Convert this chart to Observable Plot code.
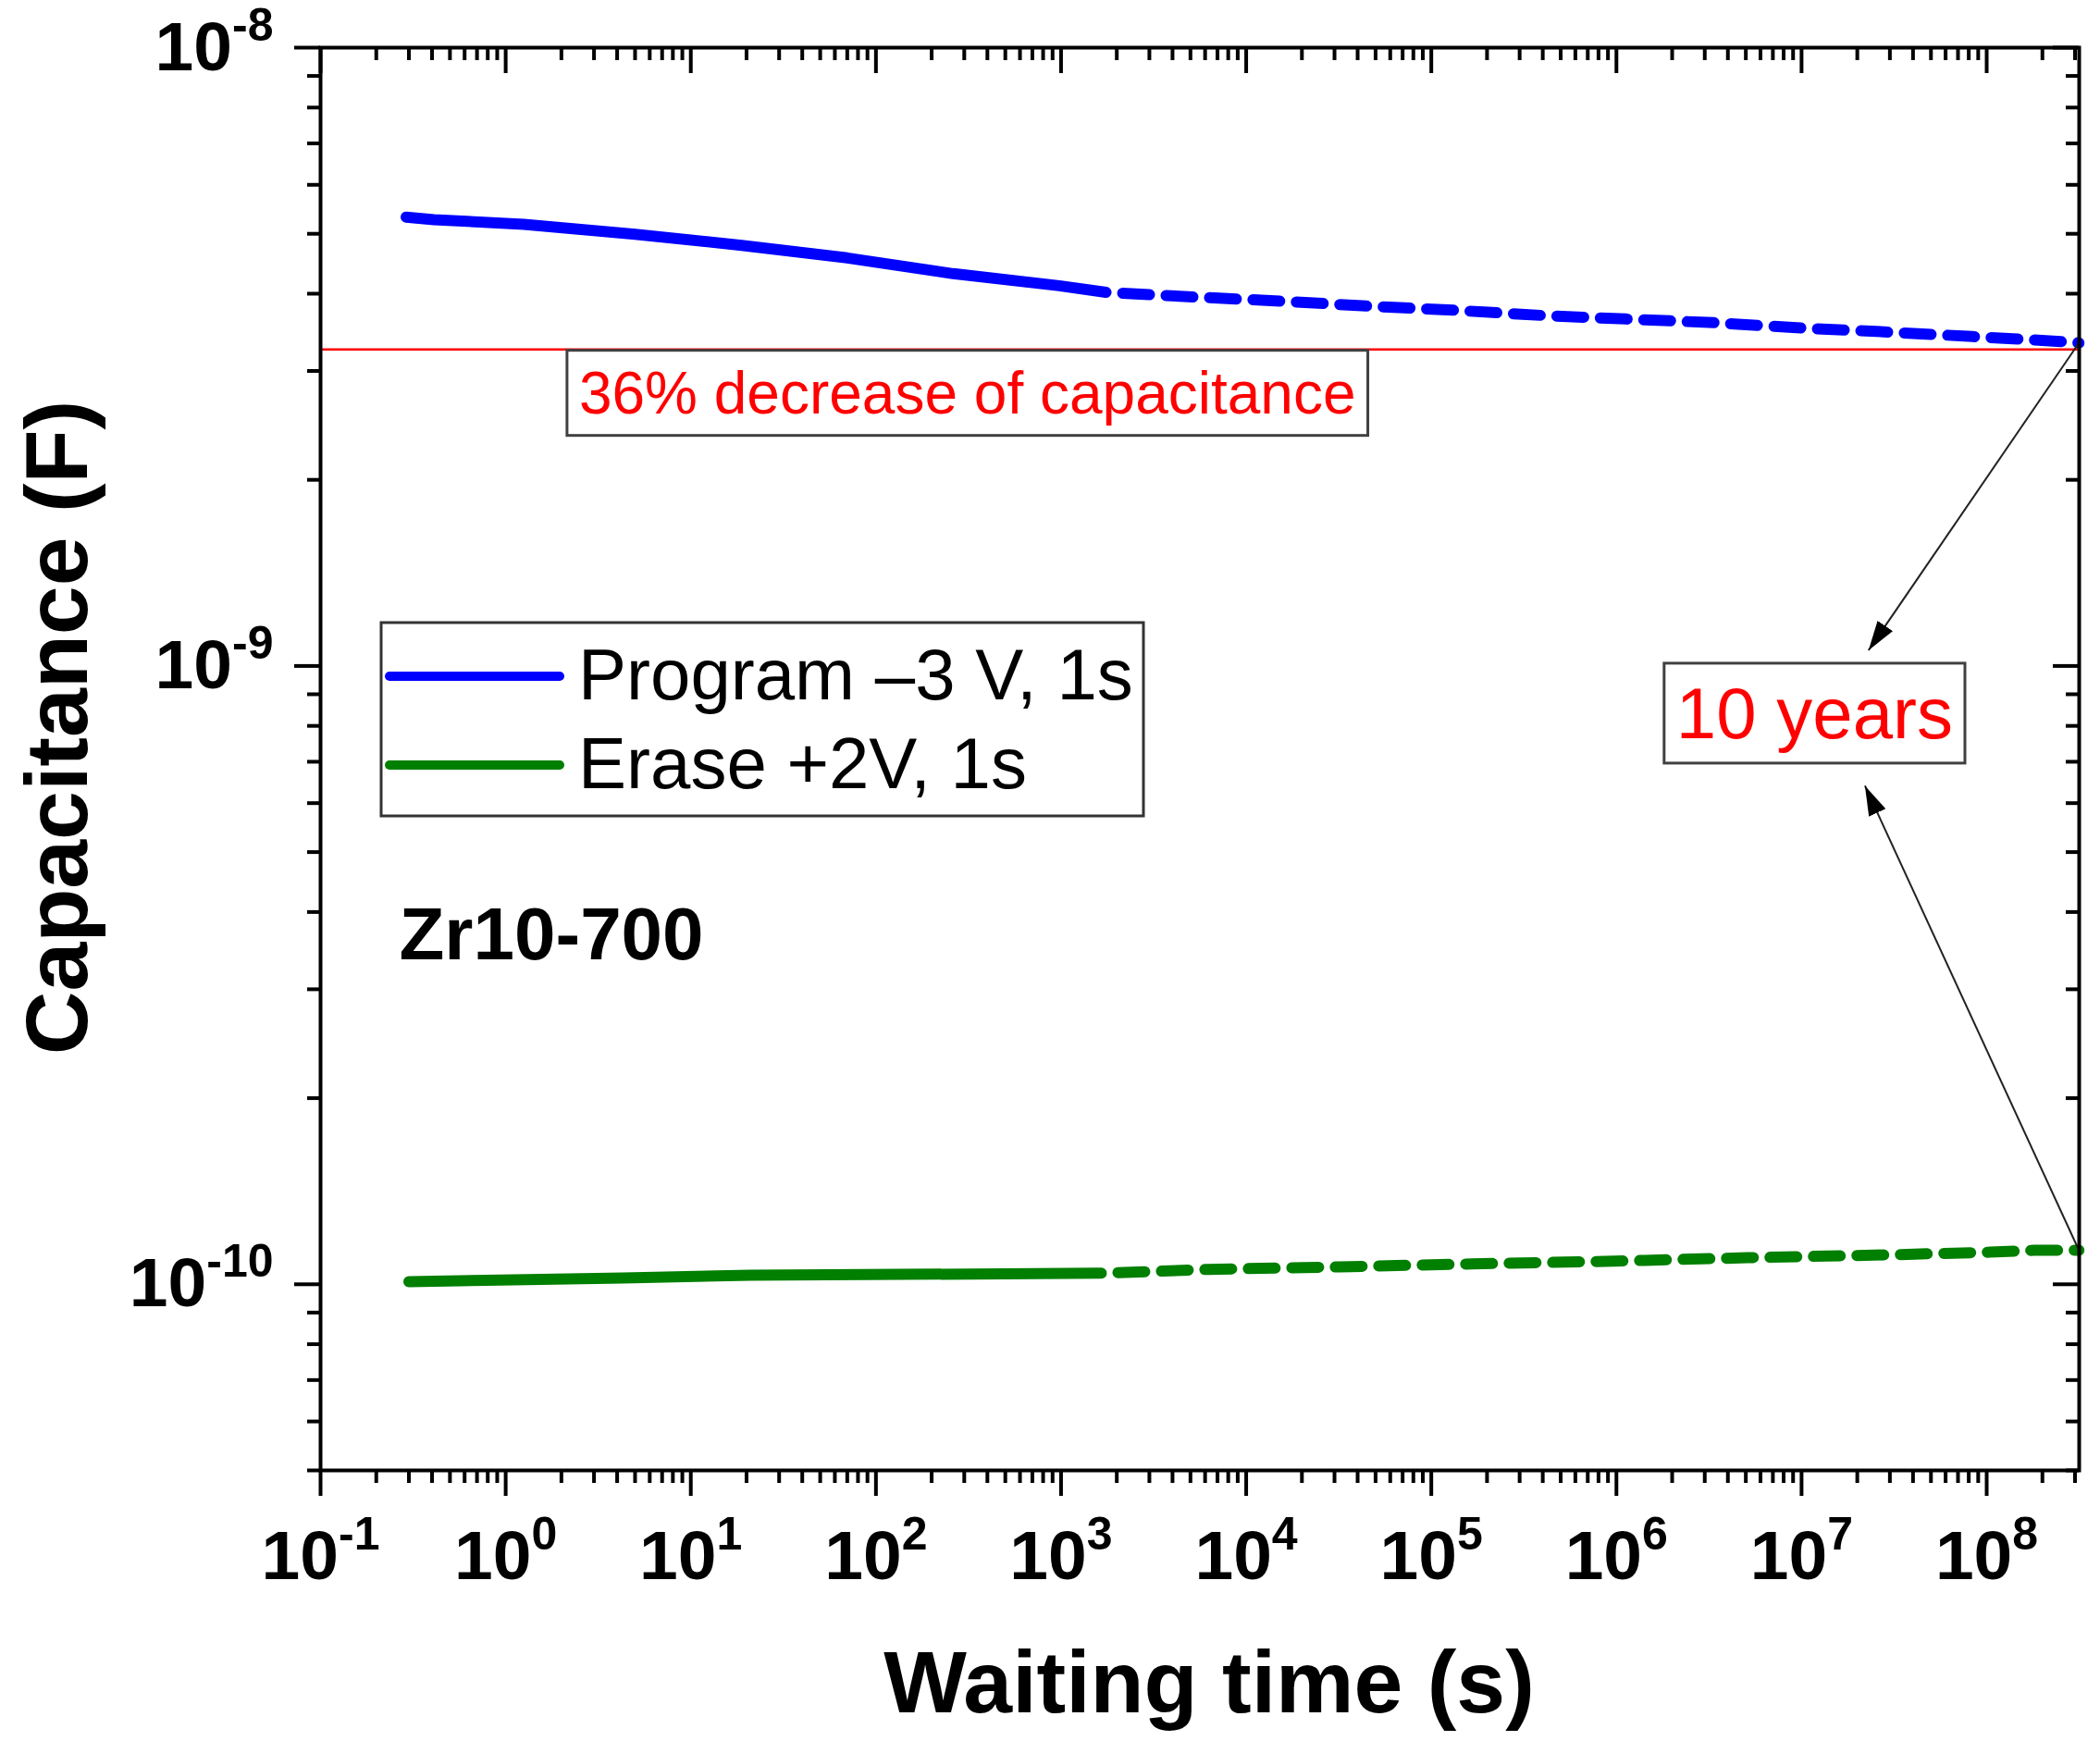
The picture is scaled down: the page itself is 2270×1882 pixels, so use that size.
<!DOCTYPE html>
<html>
<head>
<meta charset="utf-8">
<script src="https://cdn.jsdelivr.net/npm/d3@7"></script>
<script src="https://cdn.jsdelivr.net/npm/@observablehq/plot@0.6"></script>
<style>
  body { margin: 0; background: #ffffff; }
  svg { display: block; }
</style>
</head>
<body>
<div id="chart"></div>
<script>
// ---------- data ----------
// Program -3 V, 1s : measured part (solid)
const progMeasT = [0.29, 0.41, 1.25, 5.0, 18.8, 70, 261, 977, 1750];
const progMeasC = [5.32e-9, 5.27e-9, 5.18e-9, 4.99e-9, 4.79e-9, 4.57e-9, 4.31e-9, 4.12e-9, 4.02e-9];
// Program : extrapolated part (dashed)
const progExtT = [1750, 5400, 1.57e4, 4.5e4, 1.35e5, 3.9e5, 1.13e6, 3.4e6, 1.0e7, 2.8e7, 8.4e7, 2.4e8, 3.15e8];
const progExtC = [4.02e-9, 3.95e-9, 3.89e-9, 3.82e-9, 3.76e-9, 3.69e-9, 3.64e-9, 3.59e-9, 3.52e-9, 3.47e-9, 3.41e-9, 3.35e-9, 3.33e-9];
// Erase +2V, 1s : measured part (solid)
const eraseMeasT = [0.3, 0.78, 4.3, 21, 1650];
const eraseMeasC = [1.01e-10, 1.015e-10, 1.024e-10, 1.034e-10, 1.042e-10];
// Erase : extrapolated part (dashed)
const eraseExtT = [1650, 6.2e3, 3.2e4, 1.66e5, 9.8e5, 5.1e6, 3.0e7, 1.04e8, 1.8e8, 3.15e8];
const eraseExtC = [1.042e-10, 1.057e-10, 1.067e-10, 1.079e-10, 1.09e-10, 1.104e-10, 1.116e-10, 1.127e-10, 1.135e-10, 1.135e-10];

// 36 % decrease level
const decreaseLevel = [3.25e-9];

// tick exponents
const xTickExponents = [-1, 0, 1, 2, 3, 4, 5, 6, 7, 8];
const yTickExponents = [-10, -9, -8];

// texts
const legendLabels = ["Program \u20133 V, 1s", "Erase +2V, 1s"];
const legendColors = ["#0000ff", "#007f00"];
const sampleLabel = ["Zr10-700"];
const xTitle = ["Waiting time (s)"];
const yTitle = ["Capacitance (F)"];
const decreaseText = ["36% decrease of capacitance"];
const decreaseTextT = [2.49];
const decreaseTextC = [2.563e-9];
const yearsText = ["10 years"];
const yearsTextT = [1.175e7];
const yearsTextC = [8.33e-10];
// arrows: from curve ends to the "10 years" label
const arrowFromT = [3.15e8, 3.15e8];
const arrowFromC = [3.33e-9, 1.135e-10];
const arrowToT = [2.3e7, 2.2e7];
const arrowToC = [1.06e-9, 6.4e-10];

// ---------- derived tables ----------
const rows = (T, C) => T.map((t, i) => ({t, c: C[i]}));
const xDomain = [0.1, 3.16e8];
const yDomain = [5e-11, 1e-8];
const majorX = xTickExponents.map(e => Math.pow(10, e));
const majorY = yTickExponents.map(e => Math.pow(10, e));
const minorX = [];
for (let e = -1; e <= 8; e++) for (let m = 2; m <= 9; m++) {
  const v = m * Math.pow(10, e);
  if (v <= xDomain[1]) minorX.push(v);
}
const minorY = [];
for (let e = -11; e <= -9; e++) for (let m = 2; m <= 9; m++) {
  const v = m * Math.pow(10, e);
  if (v >= yDomain[0] * 0.999 && v <= yDomain[1]) minorY.push(v);
}
const supFmt = d => "10^" + Math.round(Math.log10(d));
const blank = () => "";
const arrows = arrowFromT.map((t, i) => ({t1: t, c1: arrowFromC[i], t2: arrowToT[i], c2: arrowToC[i]}));

const font = "'Liberation Sans', Arial, Helvetica, sans-serif";

const chart = Plot.plot({
  width: 2270,
  height: 1882,
  marginLeft: 346,
  marginRight: 23,
  marginTop: 51,
  marginBottom: 293,
  style: {fontFamily: font, background: "#ffffff", color: "#000000"},
  x: {type: "log", domain: xDomain},
  y: {type: "log", domain: yDomain},
  marks: [
    // red reference level
    Plot.ruleY(decreaseLevel, {stroke: "#ff0000", strokeWidth: 2.5}),
    // curves
    Plot.line(rows(progExtT, progExtC), {x: "t", y: "c", stroke: "#0000ff", strokeWidth: 12, strokeDasharray: "29,18", strokeDashoffset: 29}),
    Plot.line(rows(progMeasT, progMeasC), {x: "t", y: "c", stroke: "#0000ff", strokeWidth: 12, strokeLinecap: "round", strokeLinejoin: "round"}),
    Plot.line(rows(eraseExtT, eraseExtC), {x: "t", y: "c", stroke: "#007f00", strokeWidth: 12, strokeDasharray: "29,18", strokeDashoffset: 29}),
    Plot.line(rows(eraseMeasT, eraseMeasC), {x: "t", y: "c", stroke: "#007f00", strokeWidth: 12, strokeLinecap: "round", strokeLinejoin: "round"}),
    // arrows
    Plot.link(arrows, {x1: "t1", y1: "c1", x2: "t2", y2: "c2", stroke: "#222222", strokeWidth: 2}),
    // boxed annotations
    Plot.text(decreaseText, {x: () => decreaseTextT[0], y: () => decreaseTextC[0], text: d => d, fill: "#ff0000", fontSize: 64, textAnchor: "start", lineAnchor: "bottom"}),
    Plot.text(yearsText, {x: () => yearsTextT[0], y: () => yearsTextC[0], text: d => d, fill: "#ff0000", fontSize: 78, textAnchor: "middle", lineAnchor: "middle"}),
    // sample label
    Plot.text(sampleLabel, {text: d => d, frameAnchor: "top-left", dx: 85, dy: 985, textAnchor: "start", lineAnchor: "bottom", fontSize: 80, fontWeight: "bold"}),
    // axes: bottom / left (outward), top / right (inward)
    Plot.axisX(majorX, {anchor: "bottom", tickSize: 28, tickPadding: 36, tickFormat: supFmt, fontSize: 75, fontWeight: "bold", strokeWidth: 4, label: null}),
    Plot.axisX(minorX, {anchor: "bottom", tickSize: 14, tickFormat: blank, strokeWidth: 4, label: null}),
    Plot.axisX(majorX, {anchor: "bottom", frameAnchor: "top", tickSize: 28, tickFormat: blank, strokeWidth: 4, label: null}),
    Plot.axisX(minorX, {anchor: "bottom", frameAnchor: "top", tickSize: 14, tickFormat: blank, strokeWidth: 4, label: null}),
    Plot.axisY(majorY, {anchor: "left", tickSize: 28, tickPadding: 23, tickFormat: supFmt, fontSize: 75, fontWeight: "bold", strokeWidth: 4, label: null}),
    Plot.axisY(minorY, {anchor: "left", tickSize: 14, tickFormat: blank, strokeWidth: 4, label: null}),
    Plot.axisY(majorY, {anchor: "left", frameAnchor: "right", tickSize: 28, tickFormat: blank, strokeWidth: 4, label: null}),
    Plot.axisY(minorY, {anchor: "left", frameAnchor: "right", tickSize: 14, tickFormat: blank, strokeWidth: 4, label: null}),
    Plot.frame({stroke: "#000000", strokeWidth: 4}),
    // axis titles
    Plot.text(xTitle, {text: d => d, frameAnchor: "bottom", dx: 10, dy: 261, textAnchor: "middle", lineAnchor: "bottom", fontSize: 95, fontWeight: "bold"}),
    Plot.text(yTitle, {text: d => d, frameAnchor: "left", rotate: -90, dx: -253, dy: -34, textAnchor: "middle", lineAnchor: "bottom", fontSize: 95, fontWeight: "bold"})
  ]
});

document.getElementById("chart").append(chart);

// ---------- post-processing ----------
const svg = d3.select(chart);

// remove empty tick texts
svg.selectAll("text").filter(function () { return this.textContent === ""; }).remove();

// superscripted powers of ten
svg.selectAll("text").each(function () {
  const m = /^10\^(-?\d+)$/.exec(this.textContent);
  if (!m) return;
  const t = d3.select(this);
  t.text("10");
  t.append("tspan").attr("dy", -32).attr("font-size", 50).text(m[1]);
});

// boxes around the two boxed annotations
const boxedTexts = decreaseText.concat(yearsText);
Array.from(chart.querySelectorAll("text"))
  .filter(el => boxedTexts.includes(el.textContent))
  .forEach(el => {
    const b = el.getBBox();
    const padX = 13, padY = 10;
    const rect = document.createElementNS("http://www.w3.org/2000/svg", "rect");
    rect.setAttribute("x", b.x - padX);
    rect.setAttribute("y", b.y - padY);
    rect.setAttribute("width", b.width + 2 * padX);
    rect.setAttribute("height", b.height + 2 * padY);
    rect.setAttribute("fill", "#ffffff");
    rect.setAttribute("stroke", "#404040");
    rect.setAttribute("stroke-width", 3);
    const tr = el.getAttribute("transform");
    if (tr) rect.setAttribute("transform", tr);
    el.parentNode.insertBefore(rect, el);
  });

// filled arrow heads on the link mark
const defs = svg.insert("defs", ":first-child");
defs.append("marker")
  .attr("id", "filled-head")
  .attr("viewBox", "0 0 32 20")
  .attr("refX", 32).attr("refY", 10)
  .attr("markerWidth", 32).attr("markerHeight", 20)
  .attr("markerUnits", "userSpaceOnUse")
  .attr("orient", "auto")
  .append("path").attr("d", "M0,0L32,10L0,20Z").attr("fill", "#000000");
svg.selectAll('g[aria-label="link"] path').attr("marker-end", "url(#filled-head)");

// legend
const leg = svg.append("g").attr("aria-label", "legend").attr("text-anchor", "start");
leg.append("rect")
  .attr("x", 412).attr("y", 673).attr("width", 824).attr("height", 209)
  .attr("fill", "#ffffff").attr("stroke", "#333333").attr("stroke-width", 3);
legendLabels.forEach((label, i) => {
  const y = 731 + i * 96;
  leg.append("line")
    .attr("x1", 421).attr("x2", 605).attr("y1", y).attr("y2", y)
    .attr("stroke", legendColors[i]).attr("stroke-width", 10).attr("stroke-linecap", "round");
  leg.append("text")
    .attr("x", 625).attr("y", y + 25)
    .attr("text-anchor", "start")
    .attr("font-size", 78).attr("fill", "#000000")
    .text(label);
});
</script>
</body>
</html>
